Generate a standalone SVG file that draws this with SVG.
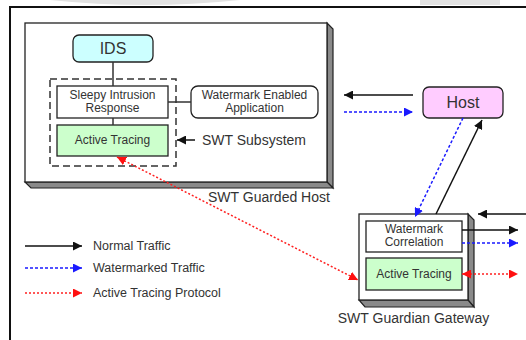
<svg xmlns="http://www.w3.org/2000/svg" width="526" height="340" viewBox="0 0 526 340">
<style>
text{font-family:"Liberation Sans",Arial,sans-serif;fill:#333}
.box{fill:#fff;stroke:#222;stroke-width:1.3}
.face{fill:#8a8a8a;stroke:#222;stroke-width:1.2}
.ln{stroke:#333;stroke-width:1.5;fill:none}
.blk{stroke:#111;stroke-width:1.5;fill:none}
.blu{stroke:#1a1aff;stroke-width:1.5;stroke-dasharray:3 2;fill:none}
.red{stroke:#ff2020;stroke-width:1.5;stroke-dasharray:2 2;fill:none}
</style>
<defs>
<marker id="ak" markerUnits="userSpaceOnUse" markerWidth="10" markerHeight="9" refX="9" refY="4.5" orient="auto-start-reverse"><path d="M0,0 L9,4.5 L0,9 z" fill="#111"/></marker>
<marker id="ab" markerUnits="userSpaceOnUse" markerWidth="10" markerHeight="9" refX="9" refY="4.5" orient="auto-start-reverse"><path d="M0,0 L9,4.5 L0,9 z" fill="#1a1aff"/></marker>
<marker id="ar" markerUnits="userSpaceOnUse" markerWidth="10" markerHeight="9" refX="9" refY="4.5" orient="auto-start-reverse"><path d="M0,0 L9,4.5 L0,9 z" fill="#ff1010"/></marker>
</defs>
<rect width="526" height="340" fill="#fff"/>
<g id="bg-marks" fill="#e2e2e2">
<path d="M50,0 Q145,10 240,0 z"/>
<rect x="420" y="0" width="80" height="5"/>
</g>
<path id="frame" d="M10,340 L10,7 L526,7" fill="none" stroke="#111" stroke-width="2"/>

<g id="guarded-host">
<polygon class="face" points="327,23 333,29 333,188 327,182"/>
<polygon class="face" points="25,182 327,182 333,188 31,188"/>
<rect class="box" x="25" y="23" width="302" height="159"/>
<text x="208" y="202" font-size="14">SWT Guarded Host</text>
</g>

<g id="subsystem">
<rect x="50" y="79" width="126" height="87" fill="none" stroke="#333" stroke-width="1.5" stroke-dasharray="7 4"/>
</g>

<g id="ids">
<rect x="73" y="35" width="80" height="27" rx="6" fill="#ccffff" stroke="#222" stroke-width="1.3"/>
<text x="113" y="54" font-size="16" text-anchor="middle">IDS</text>
</g>

<g id="sleepy">
<rect class="box" x="57" y="86" width="111" height="32"/>
<text x="112.5" y="99" font-size="12" text-anchor="middle">Sleepy Intrusion</text>
<text x="112.5" y="112" font-size="12" text-anchor="middle">Response</text>
</g>

<g id="active-host">
<rect x="57" y="125" width="111" height="31" fill="#ccffcc" stroke="#222" stroke-width="1.3"/>
<text x="112.5" y="144" font-size="12" text-anchor="middle">Active Tracing</text>
</g>

<g id="wm-app">
<rect class="box" x="191" y="86" width="127" height="32" rx="7"/>
<text x="254.5" y="99" font-size="12" text-anchor="middle">Watermark Enabled</text>
<text x="254.5" y="112" font-size="12" text-anchor="middle">Application</text>
</g>

<g id="subsystem-label">
<text x="202" y="145" font-size="14">SWT Subsystem</text>
</g>

<g id="host">
<rect x="423" y="87" width="80" height="31" rx="6" fill="#ffccff" stroke="#222" stroke-width="1.3"/>
<text x="463" y="108" font-size="16" text-anchor="middle">Host</text>
</g>

<g id="gateway">
<polygon class="face" points="468,214 474,220 474,307 468,300"/>
<polygon class="face" points="359,300 468,300 474,307 365,307"/>
<rect class="box" x="359" y="214" width="109" height="86"/>
<text x="413.5" y="323" font-size="14" text-anchor="middle">SWT Guardian Gateway</text>
</g>

<g id="wm-corr">
<rect class="box" x="366" y="221" width="96" height="31"/>
<text x="414" y="233" font-size="12" text-anchor="middle">Watermark</text>
<text x="414" y="246" font-size="12" text-anchor="middle">Correlation</text>
</g>

<g id="active-gw">
<rect x="366" y="258" width="96" height="32" fill="#ccffcc" stroke="#222" stroke-width="1.3"/>
<text x="414" y="278" font-size="12" text-anchor="middle">Active Tracing</text>
</g>

<g id="legend">
<text x="93" y="250" font-size="12.5">Normal Traffic</text>
<text x="93" y="272" font-size="12.5">Watermarked Traffic</text>
<text x="93" y="297" font-size="12.5">Active Tracing Protocol</text>
</g>

<g id="connectors">
<line class="ln" x1="113" y1="62" x2="113" y2="86"/>
<line class="ln" x1="113" y1="118" x2="113" y2="125"/>
<line class="ln" x1="168" y1="102" x2="191" y2="102"/>
<line class="blk" x1="195" y1="140" x2="177" y2="140" marker-end="url(#ak)"/>
<line class="blk" x1="413" y1="95" x2="344" y2="95" marker-end="url(#ak)"/>
<line class="blu" x1="344" y1="112" x2="413" y2="112" marker-end="url(#ab)"/>
<line class="blu" x1="463" y1="118" x2="415" y2="217" marker-end="url(#ab)"/>
<line class="blk" x1="436" y1="214" x2="482" y2="120" marker-end="url(#ak)"/>
<line class="red" x1="117" y1="157" x2="358" y2="280" marker-start="url(#ar)" marker-end="url(#ar)"/>
<line class="blk" x1="526" y1="214" x2="478" y2="214" marker-end="url(#ak)"/>
<line class="blk" x1="462" y1="230" x2="518" y2="230" marker-end="url(#ak)"/>
<line class="blu" x1="462" y1="243" x2="518" y2="243" marker-end="url(#ab)"/>
<line class="red" x1="462" y1="274" x2="518" y2="274" marker-start="url(#ar)" marker-end="url(#ar)"/>
<line class="blk" x1="25" y1="246" x2="82" y2="246" marker-end="url(#ak)"/>
<line class="blu" x1="25" y1="268" x2="82" y2="268" marker-end="url(#ab)"/>
<line class="red" x1="25" y1="293" x2="82" y2="293" marker-end="url(#ar)"/>
</g>
</svg>
